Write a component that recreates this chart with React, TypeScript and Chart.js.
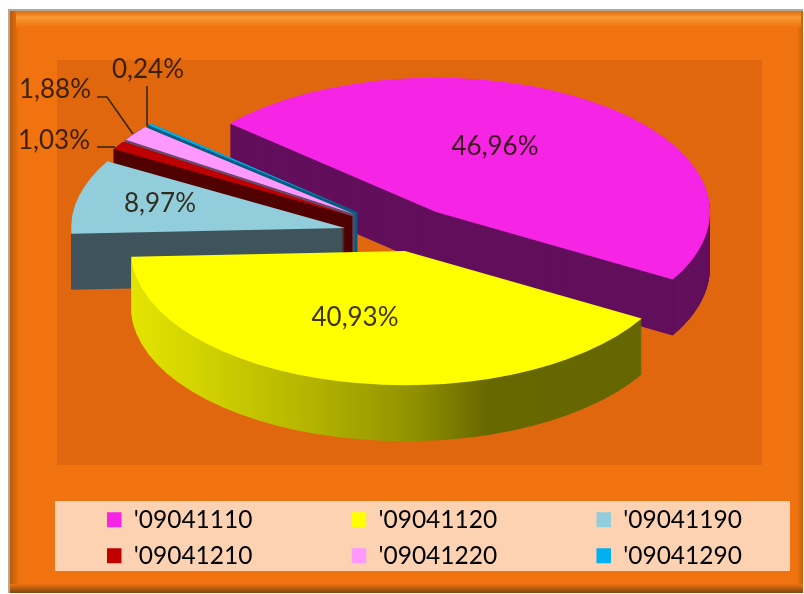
import React, { useEffect, useRef } from "react";
import { Chart, registerables } from "chart.js";

Chart.register(...registerables);

const categories = ["'09041110", "'09041120", "'09041190", "'09041210", "'09041220", "'09041290"];
const shares = [46.96, 40.93, 8.97, 1.03, 1.88, 0.24];
const shareLabels = ["46,96%", "40,93%", "8,97%", "1,03%", "1,88%", "0,24%"];
const topColors = ["#F624E4", "#FFFF00", "#92CDDC", "#C00000", "#FF99FF", "#00B0F0"];
const wallColors = ["#620F5C", "#666600", "#3F545C", "#520000", "#6A4A6A", "#005F80"];

const W = 804;
const H = 594;
const RADIUS = 274;
const SQUASH = 0.49;
const DEPTH = 56;
const drawOrder = [0, 5, 4, 3, 2, 1];
const apexes = [
  [436, 212],
  [405, 251],
  [345, 228],
  [352, 216],
  [354, 214],
  [357, 212],
];
const labelSpots = [
  [495, 147],
  [355, 318],
  [160, 204],
  [54, 141],
  [55, 90],
  [148, 70],
];
const leaders = [
  [[97, 147], [115, 147]],
  [[97, 97], [107, 97], [133, 134]],
  [[147, 86], [147, 126]],
];
const TEXT = "rgba(35,22,0,0.88)";

const framePlugin = {
  id: "frame",
  beforeDraw(chart: any) {
    const c = chart.ctx;
    c.save();
    c.fillStyle = "#ffffff";
    c.fillRect(0, 0, W, H);
    c.fillStyle = "#B5A898";
    c.fillRect(8, 9, 795, 584);
    c.fillStyle = "#F0730F";
    c.fillRect(10, 11, 793, 582);
    const left = c.createLinearGradient(10, 0, 19, 0);
    left.addColorStop(0, "#B85A0C");
    left.addColorStop(1, "#F0730F");
    c.fillStyle = left;
    c.fillRect(10, 11, 9, 582);
    const right = c.createLinearGradient(797, 0, 803, 0);
    right.addColorStop(0, "#F0730F");
    right.addColorStop(1, "#C0600C");
    c.fillStyle = right;
    c.fillRect(797, 11, 6, 582);
    const top = c.createLinearGradient(0, 11, 0, 27);
    top.addColorStop(0, "#E06C10");
    top.addColorStop(0.4, "#F89A32");
    top.addColorStop(1, "#F0730F");
    c.fillStyle = top;
    c.fillRect(16, 11, 785, 16);
    const bot = c.createLinearGradient(0, 584, 0, 593);
    bot.addColorStop(0, "#EE720F");
    bot.addColorStop(1, "#7F4612");
    c.fillStyle = bot;
    c.fillRect(10, 584, 793, 9);
    c.fillStyle = "#E0670D";
    c.fillRect(57, 60, 705, 405);
    c.fillStyle = "#FCD2B2";
    c.fillRect(55, 501, 735, 70);
    c.restore();
  },
};

const pie3dPlugin = {
  id: "pie3d",
  beforeDatasetsDraw(chart: any) {
    const c = chart.ctx;
    const arcs = chart.getDatasetMeta(0).data;
    drawOrder.forEach((i) => {
      const arc = arcs[i];
      const tx = apexes[i][0] - arc.x;
      let wall: any = wallColors[i];
      if (i === 1) {
        wall = c.createLinearGradient(131 - tx, 0, 640 - tx, 0);
        wall.addColorStop(0, "#E4E400");
        wall.addColorStop(0.14, "#D2D200");
        wall.addColorStop(0.35, "#B4B400");
        wall.addColorStop(0.55, "#929200");
        wall.addColorStop(0.7, "#686800");
        wall.addColorStop(1, "#666600");
      }
      const thin = shares[i] < 3;
      const side = Object.create(arc);
      side.options = {
        ...arc.options,
        backgroundColor: wall,
        borderColor: wall,
        borderWidth: thin ? 3 : 0,
        borderAlign: "center",
      };
      const place = (drop: number) => {
        c.setTransform(1, 0, 0, SQUASH, tx, apexes[i][1] + drop - arc.y * SQUASH);
      };
      c.save();
      for (let d = DEPTH; d >= 1; d--) {
        place(d);
        side.draw(c);
      }
      place(0);
      arc.draw(c);
      c.restore();
    });

    c.save();
    c.strokeStyle = "#3A2608";
    c.lineWidth = 1.6;
    leaders.forEach((pts) => {
      c.beginPath();
      pts.forEach(([x, y], n) => (n ? c.lineTo(x, y) : c.moveTo(x, y)));
      c.stroke();
    });
    c.font = "26px Lato";
    c.fillStyle = TEXT;
    c.textAlign = "center";
    c.textBaseline = "middle";
    shareLabels.forEach((t, i) => c.fillText(t, labelSpots[i][0], labelSpots[i][1]));
    c.restore();
    return false;
  },
};

export default function App() {
  const ref = useRef<HTMLCanvasElement>(null);
  useEffect(() => {
    const chart = new Chart(ref.current as HTMLCanvasElement, {
      type: "pie",
      data: {
        labels: categories,
        datasets: [
          {
            data: shares,
            backgroundColor: topColors,
            borderWidth: 0,
            radius: RADIUS,
          } as any,
        ],
      },
      plugins: [framePlugin, pie3dPlugin],
      options: {
        responsive: false,
        animation: false,
        rotation: -48.8,
        layout: { padding: { left: 95.5, right: 0, top: 0, bottom: 16 } },
        plugins: {
          tooltip: { enabled: false },
          legend: {
            position: "bottom",
            align: "start",
            labels: {
              boxWidth: 14.5,
              boxHeight: 15,
              padding: 11.5,
              color: "#1E1E1E",
              font: { family: "Lato", size: 24.5 },
              generateLabels: (chart: any) =>
                chart.data.labels.map((text: string, i: number) => ({
                  text: i % 3 === 2 ? text : text + " ".repeat(14),
                  fillStyle: topColors[i],
                  strokeStyle: topColors[i],
                  lineWidth: 0,
                  hidden: false,
                  index: i,
                })),
            },
          },
        },
      } as any,
    } as any);
    return () => chart.destroy();
  }, []);
  return (
    <canvas
      ref={ref}
      width={W}
      height={H}
      style={{ position: "absolute", left: 0, top: 0, width: W, height: H, filter: "blur(0.5px)" }}
    />
  );
}
